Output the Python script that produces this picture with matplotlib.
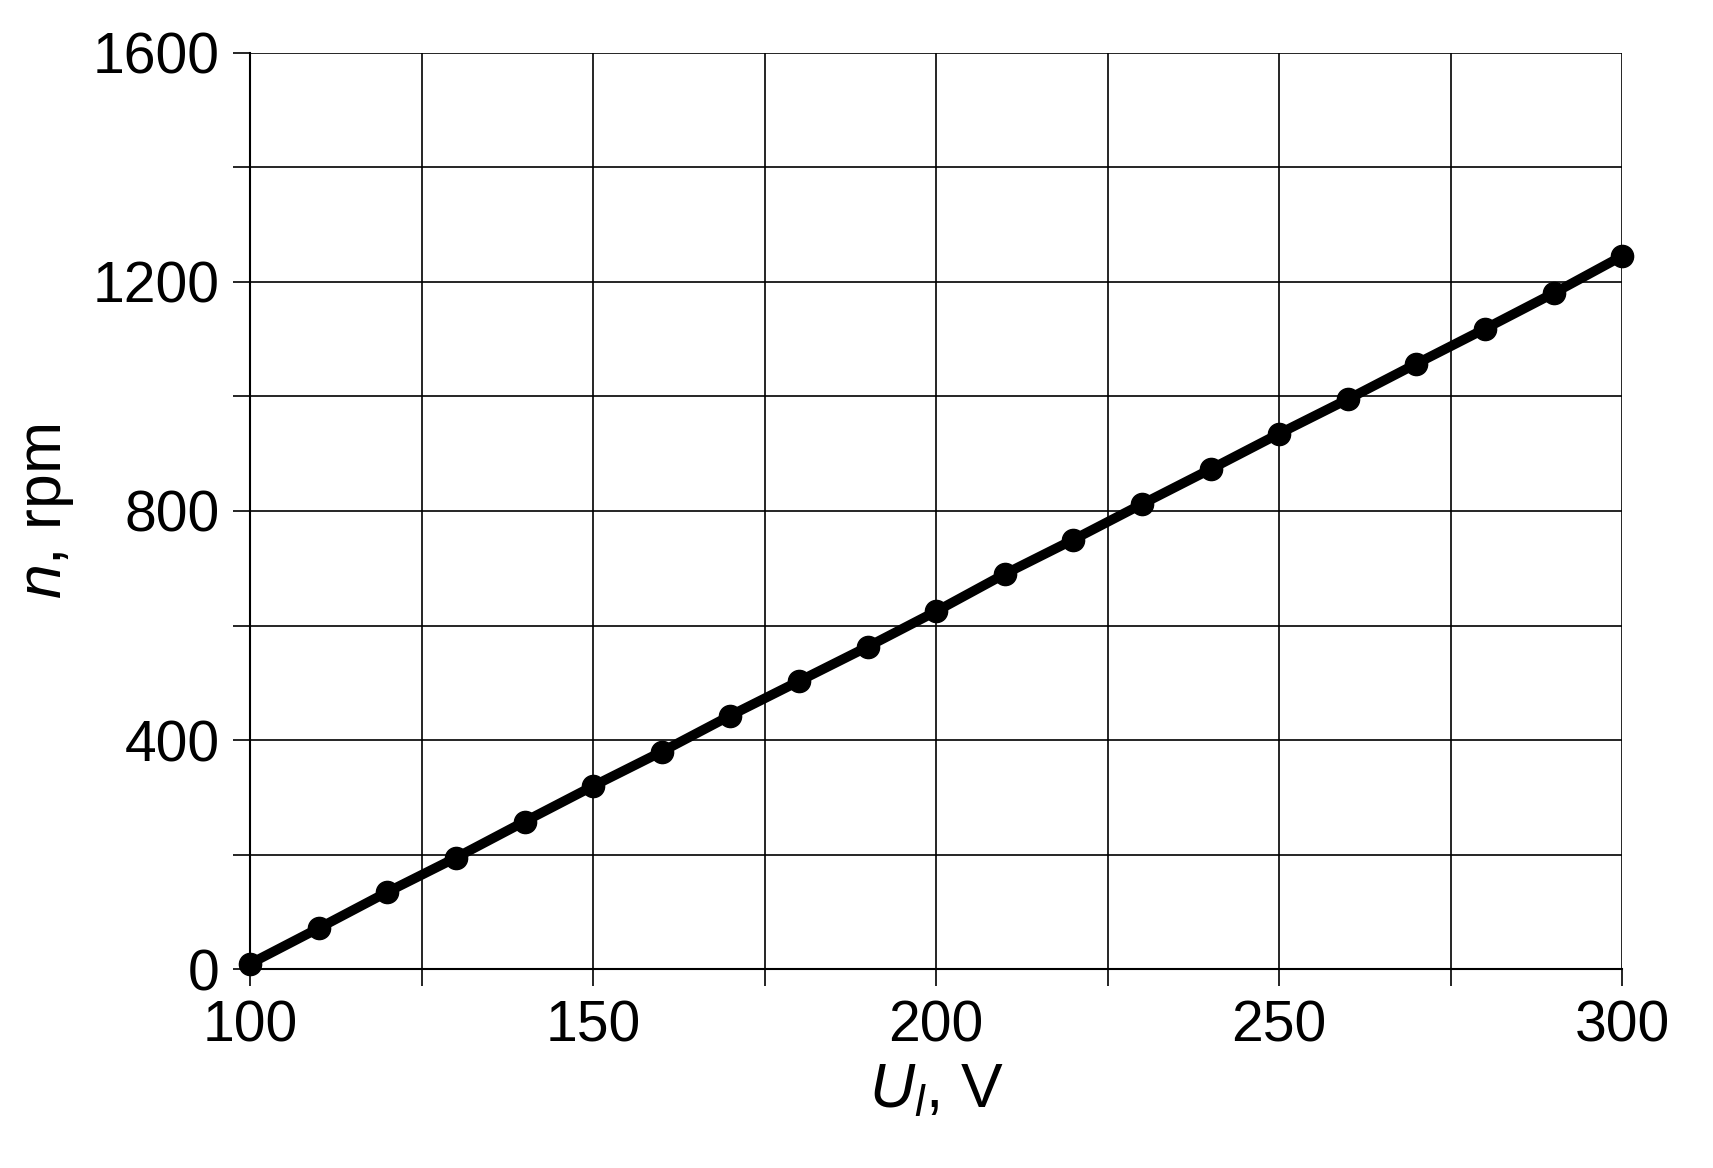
import matplotlib
matplotlib.use("Agg")
import matplotlib.pyplot as plt
import numpy as np

U = [100,110,120,130,140,150,160,170,180,190,200,210,220,230,240,250,260,270,280,290,300]
n = [10,72,135,195,258,320,380,443,503,563,625,690,750,812,873,935,995,1057,1118,1180,1245]
xticks = [100,150,200,250,300]
yticks = [0,400,800,1200,1600]

plt.rcParams['font.family'] = ['Liberation Sans', 'DejaVu Sans']
plt.rcParams['mathtext.fontset'] = 'custom'
plt.rcParams['mathtext.it'] = 'Liberation Sans:italic'
plt.rcParams['mathtext.rm'] = 'Liberation Sans'
fig = plt.figure(figsize=(17.13, 11.68), dpi=100)
ax = fig.add_axes([0.146, 0.170, 0.801, 0.785])
ax.plot(U, n, color='black', lw=7, marker='o', ms=16, zorder=3, clip_on=False)
ax.set_xlim(100, 300)
ax.set_ylim(0, 1600)
ax.set_xticks(xticks)
ax.set_yticks(yticks)
ax.set_xticks(np.arange(100, 301, 25), minor=True)
ax.set_yticks(np.arange(0, 1601, 200), minor=True)
ax.grid(True, which='both', color='black', lw=1.2)
ax.tick_params(which='both', direction='out', length=12, width=1.2, labelsize=41, pad=10)
ax.tick_params(which='minor', labelleft=False, labelbottom=False)
for s in ax.spines.values():
    s.set_visible(False)
ax.spines['left'].set_visible(True); ax.spines['left'].set_linewidth(1.5)
ax.spines['bottom'].set_visible(True); ax.spines['bottom'].set_linewidth(1.5)
ax.set_xlabel(r'$U_l$, V', fontsize=45, labelpad=5)
ax.set_ylabel('$n$, rpm', fontsize=45, labelpad=12)
fig.savefig('out.png', dpi=100, facecolor='white')
